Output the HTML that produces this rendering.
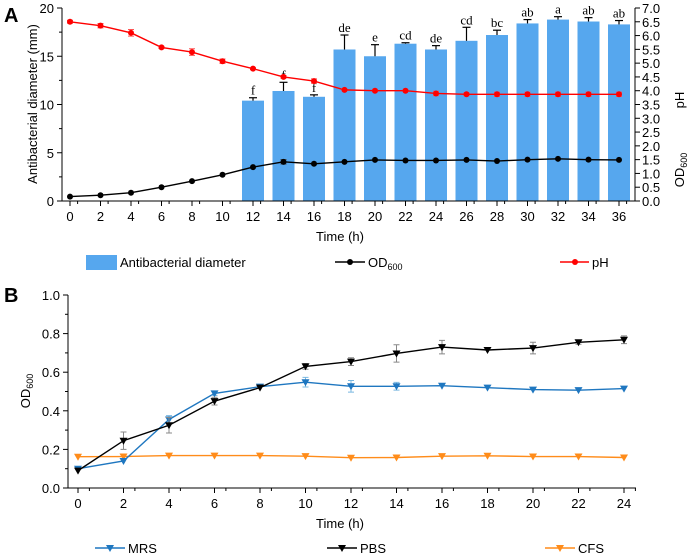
<!DOCTYPE html>
<html><head><meta charset="utf-8"><style>
html,body{margin:0;padding:0;background:#fff;}
svg{display:block;font-family:"Liberation Sans",sans-serif;}
</style></head><body>
<svg id="fig" width="689" height="557" viewBox="0 0 689 557"></svg>
<script>
// Panel A data
const hoursA = [0,2,4,6,8,10,12,14,16,18,20,22,24,26,28,30,32,34,36];
const barHours = [12,14,16,18,20,22,24,26,28,30,32,34,36];
const barValues = [10.4,11.4,10.8,15.7,15.0,16.3,15.7,16.6,17.2,18.4,18.8,18.6,18.3];
const barErrors = [0.3,0.9,0.2,1.5,1.2,0.1,0.4,1.4,0.5,0.4,0.3,0.4,0.4];
const barLetters = ["f","f","f","de","e","cd","de","cd","bc","ab","a","ab","ab"];
const phValues = [6.5,6.36,6.1,5.57,5.4,5.07,4.8,4.5,4.35,4.03,4.0,4.0,3.9,3.87,3.87,3.87,3.87,3.87,3.87];
const phErrors = [0.05,0.08,0.12,0.04,0.12,0.08,0.03,0.05,0.08,0.03,0.03,0.03,0.08,0.05,0.08,0.08,0.08,0.08,0.08];
const odAValues = [0.16,0.21,0.3,0.5,0.72,0.95,1.23,1.42,1.35,1.42,1.49,1.47,1.47,1.49,1.45,1.5,1.53,1.5,1.49];
const odAErrors = [0,0,0,0,0,0,0,0.08,0,0,0,0,0,0,0,0,0,0,0];
const leftTicksA = [0,5,10,15,20];
const rightTicksA = ["0.0","0.5","1.0","1.5","2.0","2.5","3.0","3.5","4.0","4.5","5.0","5.5","6.0","6.5","7.0"];
// Panel B data
const hoursB = [0,2,4,6,8,10,12,14,16,18,20,22,24];
const mrsValues = [0.10,0.14,0.355,0.49,0.525,0.548,0.527,0.527,0.53,0.52,0.51,0.507,0.515];
const mrsErrors = [0,0,0.02,0.01,0,0.025,0.03,0.02,0,0,0,0,0];
const pbsValues = [0.09,0.245,0.325,0.45,0.52,0.63,0.655,0.697,0.73,0.715,0.725,0.755,0.768];
const pbsErrors = [0,0.045,0.04,0.02,0,0.015,0.02,0.045,0.035,0,0.03,0.01,0.02];
const cfsValues = [0.162,0.163,0.168,0.168,0.168,0.165,0.157,0.158,0.165,0.167,0.163,0.163,0.158];
const yTicksB = ["0.0","0.2","0.4","0.6","0.8","1.0"];

const svg = document.getElementById('fig');
const NS = 'http://www.w3.org/2000/svg';
function el(tag, attrs, parent, name, text){
  const e = document.createElementNS(NS, tag);
  for (const k in attrs) e.setAttribute(k, attrs[k]);
  
  
  if (text !== undefined) e.textContent = text;
  (parent || svg).appendChild(e);
  return e;
}
// ---- Panel A scales
const xA = h => 70 + (h/36)*(619-70);
const yL = v => 201 - (v/20)*193;
const yR = v => 201 - (v/7)*193;
el('text',{x:4,y:22,'font-size':20,'font-weight':'bold'},svg,'panel-a-label','A');
// bars
const bw = 22;
barHours.forEach((h,i)=>{
  const x = xA(h);
  el('rect',{x:x-bw/2,y:yL(barValues[i]),width:bw,height:yL(0)-yL(barValues[i]),fill:'#56a7ee'},svg,'bar-'+h+'h');
  const ye = yL(barValues[i]+barErrors[i]);
  el('line',{x1:x,y1:yL(barValues[i]),x2:x,y2:ye,stroke:'#000','stroke-width':1.2},svg,'bar-error');
  el('line',{x1:x-4,y1:ye,x2:x+4,y2:ye,stroke:'#000','stroke-width':1.2},svg,'bar-error-cap');
  el('text',{x:x,y:ye-3,'text-anchor':'middle','font-size':13,'font-family':'Liberation Serif, serif'},svg,'significance-letter',barLetters[i]);
});
// lines
function series(xs, vals, errs, xf, yf, color, name, marker){
  const pts = xs.map((h,i)=>xf(h)+','+yf(vals[i])).join(' ');
  el('polyline',{points:pts,fill:'none',stroke:color,'stroke-width':1.4},svg,name+'-line');
  xs.forEach((h,i)=>{
    const x=xf(h), y=yf(vals[i]);
    if (errs && errs[i]>0){
      const y1=yf(vals[i]+errs[i]), y2=yf(vals[i]-errs[i]);
      el('path',{d:`M${x},${y1}V${y2}M${x-3},${y1}H${x+3}M${x-3},${y2}H${x+3}`,stroke:marker.errColor||color,'stroke-width':1,fill:'none'},svg,name+'-error');
    }
    if (marker.type==='circle') el('circle',{cx:x,cy:y,r:3,fill:color},svg,name+'-point');
    else el('path',{d:`M${x-4},${y-3}H${x+4}L${x},${y+4}Z`,fill:color},svg,name+'-point');
  });
}
series(hoursA, phValues, phErrors, xA, yR, '#f00', 'ph', {type:'circle',errColor:'#f55'});
series(hoursA, odAValues, odAErrors, xA, yR, '#000', 'od600-a', {type:'circle',errColor:'#444'});
// axes A
el('line',{x1:62,y1:8,x2:62,y2:201,stroke:'#000'},svg,'left-axis-a');
el('line',{x1:635,y1:8,x2:635,y2:201,stroke:'#000'},svg,'right-axis-a');
el('line',{x1:62,y1:201,x2:635,y2:201,stroke:'#000'},svg,'x-axis-a');
leftTicksA.forEach(v=>{
  el('line',{x1:57,y1:yL(v),x2:62,y2:yL(v),stroke:'#000'},svg,'left-tick');
  el('text',{x:54,y:yL(v)+5,'text-anchor':'end','font-size':13},svg,'left-tick-label',String(v));
  if(v<20) el('line',{x1:59,y1:yL(v+2.5),x2:62,y2:yL(v+2.5),stroke:'#000'},svg,'left-minor-tick');
});
rightTicksA.forEach(t=>{
  const v=parseFloat(t);
  el('line',{x1:635,y1:yR(v),x2:640,y2:yR(v),stroke:'#000'},svg,'right-tick');
  el('text',{x:642,y:yR(v)+5,'font-size':13},svg,'right-tick-label',t);
});
hoursA.forEach(h=>{
  el('line',{x1:xA(h),y1:201,x2:xA(h),y2:206,stroke:'#000'},svg,'x-tick-a');
  el('line',{x1:xA(h)+7.6,y1:201,x2:xA(h)+7.6,y2:204,stroke:'#000'},svg,'x-minor-tick-a');
  el('text',{x:xA(h),y:221,'text-anchor':'middle','font-size':13},svg,'x-tick-label-a',String(h));
});
el('text',{x:340,y:241,'text-anchor':'middle','font-size':13},svg,'x-axis-title-a','Time (h)');
el('text',{transform:'translate(37,104) rotate(-90)','text-anchor':'middle','font-size':13},svg,'left-axis-title-a','Antibacterial diameter (mm)');
el('text',{transform:'translate(684,100) rotate(-90)','text-anchor':'middle','font-size':13},svg,'ph-axis-title','pH');
const odt = el('text',{transform:'translate(684,170) rotate(-90)','text-anchor':'middle','font-size':13},svg,'od-axis-title-a','OD');
el('tspan',{'font-size':9,dy:3},odt,'subscript','600');
// legend A
el('rect',{x:86,y:255,width:31,height:15,fill:'#56a7ee'},svg,'legend-swatch-diameter');
el('text',{x:120,y:267,'font-size':13},svg,'legend-label-diameter','Antibacterial diameter');
el('line',{x1:335,y1:262,x2:365,y2:262,stroke:'#000','stroke-width':1.4},svg,'legend-line-od');
el('circle',{cx:350,cy:262,r:3,fill:'#000'},svg,'legend-marker-od');
const lod=el('text',{x:368,y:267,'font-size':13},svg,'legend-label-od','OD');
el('tspan',{'font-size':9,dy:3},lod,'subscript','600');
el('line',{x1:560,y1:262,x2:589,y2:262,stroke:'#f00','stroke-width':1.4},svg,'legend-line-ph');
el('circle',{cx:575,cy:262,r:3,fill:'#f00'},svg,'legend-marker-ph');
el('text',{x:592,y:267,'font-size':13},svg,'legend-label-ph','pH');

// ---- Panel B
const xB = h => 78 + (h/24)*(624-78);
const yB = v => 488 - v*193;
el('text',{x:4,y:302,'font-size':20,'font-weight':'bold'},svg,'panel-b-label','B');
series(hoursB, cfsValues, null, xB, yB, '#ff8c1a', 'cfs', {type:'tri'});
series(hoursB, mrsValues, mrsErrors, xB, yB, '#1f77c0', 'mrs', {type:'tri',errColor:'#7ab8e0'});
series(hoursB, pbsValues, pbsErrors, xB, yB, '#000', 'pbs', {type:'tri',errColor:'#888'});
el('line',{x1:68,y1:295,x2:68,y2:488,stroke:'#000'},svg,'y-axis-b');
el('line',{x1:68,y1:488,x2:636,y2:488,stroke:'#000'},svg,'x-axis-b');
yTicksB.forEach(t=>{
  const v=parseFloat(t);
  el('line',{x1:63,y1:yB(v),x2:68,y2:yB(v),stroke:'#000'},svg,'y-tick-b');
  el('text',{x:60,y:yB(v)+5,'text-anchor':'end','font-size':13},svg,'y-tick-label-b',t);
  if(v<1) el('line',{x1:65,y1:yB(v+0.1),x2:68,y2:yB(v+0.1),stroke:'#000'},svg,'y-minor-tick-b');
});
hoursB.forEach(h=>{
  el('line',{x1:xB(h),y1:488,x2:xB(h),y2:493,stroke:'#000'},svg,'x-tick-b');
  el('line',{x1:xB(h)+11.4,y1:488,x2:xB(h)+11.4,y2:491,stroke:'#000'},svg,'x-minor-tick-b');
  el('text',{x:xB(h),y:508,'text-anchor':'middle','font-size':13},svg,'x-tick-label-b',String(h));
});
el('text',{x:340,y:528,'text-anchor':'middle','font-size':13},svg,'x-axis-title-b','Time (h)');
const odb=el('text',{transform:'translate(30,391) rotate(-90)','text-anchor':'middle','font-size':13},svg,'y-axis-title-b','OD');
el('tspan',{'font-size':9,dy:3},odb,'subscript','600');
// legend B
const legB=[['mrs','#1f77c0',95,'MRS'],['pbs','#000',327,'PBS'],['cfs','#ff8c1a',545,'CFS']];
legB.forEach(([n,c,x,lab])=>{
  el('line',{x1:x,y1:548,x2:x+30,y2:548,stroke:c,'stroke-width':1.4},svg,'legend-line-'+n);
  el('path',{d:`M${x+11},${545}H${x+19}L${x+15},${552}Z`,fill:c},svg,'legend-marker-'+n);
  el('text',{x:x+33,y:553,'font-size':13},svg,'legend-label-'+n,lab);
});
</script>
</body></html>
